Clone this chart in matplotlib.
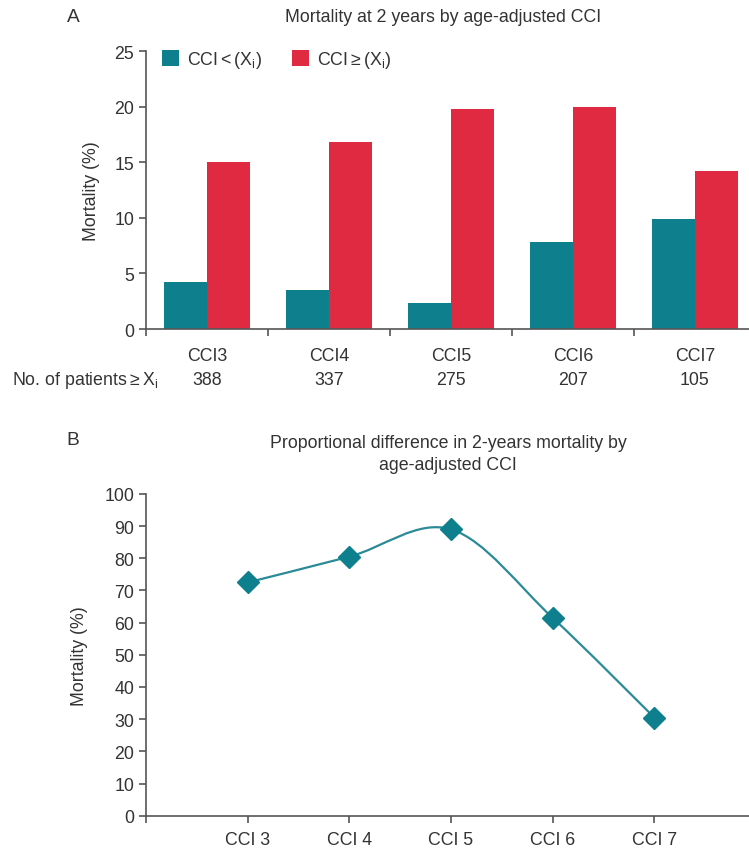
import numpy as np
import matplotlib
matplotlib.use('Agg')
import matplotlib.pyplot as plt
from matplotlib.path import Path
from matplotlib.patches import PathPatch
import matplotlib.transforms as mtransforms

plt.rcParams['font.family'] = ['Liberation Sans', 'DejaVu Sans']
plt.rcParams['mathtext.fontset'] = 'custom'
plt.rcParams['mathtext.rm'] = 'Liberation Sans'
plt.rcParams['mathtext.it'] = 'Liberation Sans'
plt.rcParams['text.color'] = '#333333'
plt.rcParams['axes.labelcolor'] = '#333333'
plt.rcParams['xtick.color'] = '#555555'
plt.rcParams['ytick.color'] = '#555555'
plt.rcParams['xtick.labelcolor'] = '#333333'
plt.rcParams['ytick.labelcolor'] = '#333333'

# Panel A data
bar_cats = ['CCI3', 'CCI4', 'CCI5', 'CCI6', 'CCI7']
below = [4.2, 3.5, 2.3, 7.8, 9.9]       # CCI < (Xi)
above = [15.0, 16.8, 19.8, 20.0, 14.2]  # CCI >= (Xi)
n_patients = [388, 337, 275, 207, 105]

# Panel B data
line_cats = ['CCI 3', 'CCI 4', 'CCI 5', 'CCI 6', 'CCI 7']
prop_diff = [72.5, 80.5, 89.0, 61.5, 30.5]

teal = '#0e7f8c'
red = '#e02a42'
line_col = '#2a8b97'
spine_col = '#555555'
fs = 12.8

fig = plt.figure(figsize=(7.49, 8.53), dpi=100)

# ---------- Panel A ----------
ax1 = fig.add_axes([0.1949, 0.6131, 0.8144, 0.3259])
x = np.arange(len(bar_cats))
w = 0.35
ax1.bar(x - w / 2, below, w, color=teal, label=r'CCI$<$(X$_\mathrm{i}$)')
ax1.bar(x + w / 2, above, w, color=red, label=r'CCI$\geq$(X$_\mathrm{i}$)')
ax1.set_xlim(-0.5, 4.5)
ax1.set_ylim(0, 25)
ax1.set_yticks(range(0, 26, 5))
ax1.set_xticks(x)
ax1.set_xticklabels(bar_cats, fontsize=fs)
ax1.set_xticks(np.arange(-0.5, 5, 1), minor=True)
ax1.tick_params(axis='x', which='major', length=0, pad=13)
ax1.tick_params(axis='x', which='minor', length=5, width=1.2, direction='out')
ax1.tick_params(axis='y', length=5, width=1.2, labelsize=fs)
ax1.set_ylabel('Mortality (%)', fontsize=fs, labelpad=10)
for s in ['top', 'right']:
    ax1.spines[s].set_visible(False)
for s in ['left', 'bottom']:
    ax1.spines[s].set_color(spine_col)
    ax1.spines[s].set_linewidth(1.2)
ax1.legend(loc='upper left', bbox_to_anchor=(0.0, 1.065), ncol=2, frameon=False,
           fontsize=fs, handlelength=0.95, handleheight=0.95, handletextpad=0.45,
           columnspacing=1.7)

# patient counts row
trans = mtransforms.blended_transform_factory(ax1.transData, fig.transFigure)
for xi, n in zip(x, n_patients):
    ax1.text(xi, 0.5545, str(n), transform=trans, ha='center', va='center',
             fontsize=fs, clip_on=False)
fig.text(0.016, 0.5545, r'No. of patients$\geq$X$_\mathrm{i}$', ha='left',
         va='center', fontsize=fs)

fig.text(0.0975, 0.980, 'A', fontsize=fs + 1, ha='center', va='center')
fig.text(0.591, 0.980, 'Mortality at 2 years by age-adjusted CCI', fontsize=fs,
         ha='center', va='center')

# ---------- Panel B ----------
ax2 = fig.add_axes([0.1949, 0.04256, 0.8144, 0.3772])
xp = np.arange(len(line_cats))
pts = np.column_stack([xp, prop_diff]).astype(float)

# smoothed line through the points (Catmull-Rom as cubic Bezier)
verts = [pts[0]]
codes = [Path.MOVETO]
for i in range(len(pts) - 1):
    p0 = pts[max(i - 1, 0)]
    p1 = pts[i]
    p2 = pts[i + 1]
    p3 = pts[min(i + 2, len(pts) - 1)]
    c1 = p1 + (p2 - p0) / 6.0
    c2 = p2 - (p3 - p1) / 6.0
    verts += [c1, c2, p2]
    codes += [Path.CURVE4] * 3
ax2.add_patch(PathPatch(Path(verts, codes), facecolor='none', edgecolor=line_col,
                        lw=1.6, zorder=2))
ax2.plot(xp, prop_diff, linestyle='none', marker='D', markersize=11,
         color=teal, zorder=3)

ax2.set_xlim(-1, 5)
ax2.set_ylim(0, 100)
ax2.set_yticks(range(0, 101, 10))
ax2.set_xticks(np.arange(-1, 5))
ax2.set_xticklabels([''] + line_cats, fontsize=fs)
ax2.tick_params(axis='x', length=5, width=1.2, pad=6)
ax2.tick_params(axis='y', length=5, width=1.2, labelsize=fs)
ax2.set_ylabel('Mortality (%)', fontsize=fs, labelpad=12)
for s in ['top', 'right']:
    ax2.spines[s].set_visible(False)
for s in ['left', 'bottom']:
    ax2.spines[s].set_color(spine_col)
    ax2.spines[s].set_linewidth(1.2)

fig.text(0.0975, 0.484, 'B', fontsize=fs + 1, ha='center', va='center')
fig.text(0.598, 0.467, 'Proportional difference in 2-years mortality by\nage-adjusted CCI',
         fontsize=fs, ha='center', va='center', linespacing=1.35)

fig.savefig('out.png', dpi=100)
